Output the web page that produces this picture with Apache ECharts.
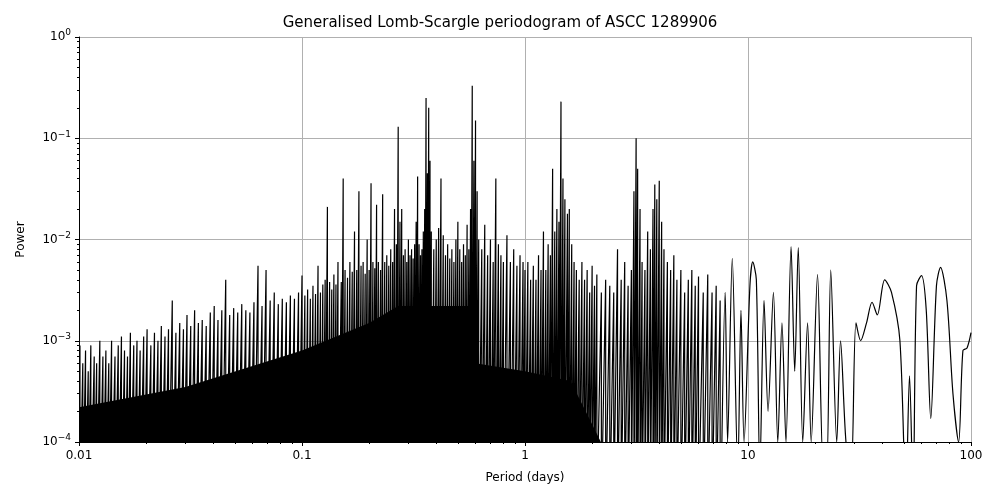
<!DOCTYPE html>
<html>
<head>
<meta charset="utf-8">
<script src="https://cdn.jsdelivr.net/npm/echarts@6/dist/echarts.min.js"></script>
<style>html,body{margin:0;background:#fff}#chart{width:1000px;height:500px}</style>
</head>
<body>
<div id="chart"></div>
<script>
// power values below are in units of 1e-3
const UNIT = 1e-3;
const FLOOR = 2e-5;

// resolved spikes: [period (days), power]
const spikesShort = [[0.0101,0.9],[0.0104,0.6],[0.0107,0.8],[0.0110,0.5],[0.0113,0.9],[0.0117,0.7],[0.0120,0.6],[0.0124,1.0],[0.0128,0.7],[0.0132,0.8],[0.0136,0.6],[0.0140,1.0],[0.0145,0.7],[0.0150,0.9],[0.0155,1.1],[0.0160,0.8],[0.0165,0.7],[0.0170,1.2],[0.0176,0.9],[0.0182,1.0],[0.0188,0.8],[0.0195,1.1],[0.0202,1.3],[0.0210,0.9],[0.0218,1.2],[0.0226,1.0],[0.0234,1.4],[0.0243,1.1],[0.0252,1.3],[0.0262,2.5],[0.0272,1.2],[0.0283,1.5],[0.0294,1.3],[0.0305,1.8],[0.0317,1.4],[0.0330,2.0],[0.0343,1.5],[0.0357,1.6],[0.0372,1.4],[0.0388,1.9],[0.0404,2.2],[0.0420,1.6],[0.0437,2.0],[0.0455,4.0],[0.0474,1.8],[0.0494,2.1],[0.0515,1.9],[0.0537,2.3],[0.0560,2.0],[0.0584,1.9],[0.0609,2.4],[0.0635,5.5],[0.0662,2.2],[0.0690,5.0],[0.0720,2.5],[0.0751,3.0],[0.0783,2.3],[0.0816,2.6],[0.0851,2.4],[0.0887,2.8],[0.0925,2.6],[0.0965,3.0]];

const spikesMid = [[0.100,4.4],[0.103,2.8],[0.106,3.2],[0.109,2.6],[0.112,3.5],[0.115,2.9],[0.118,5.5],[0.121,3.0],[0.124,3.6],[0.127,4.0],[0.130,21],[0.133,3.8],[0.136,3.2],[0.139,4.5],[0.142,3.6],[0.145,6],[0.150,3.8],[0.153,40],[0.156,5],[0.160,4.2],[0.164,6],[0.168,4.8],[0.172,12],[0.176,5],[0.180,30],[0.184,5.5],[0.188,6],[0.192,4.6],[0.196,10],[0.200,5],[0.204,36],[0.208,6],[0.212,5.2],[0.216,22],[0.220,6],[0.225,5],[0.230,28],[0.235,6],[0.240,7],[0.245,5.5],[0.250,8],[0.255,6],[0.260,20],[0.265,9],[0.270,130],[0.275,15],[0.280,20],[0.285,7],[0.290,8],[0.295,6],[0.300,10],[0.305,7],[0.310,8],[0.315,6.5],[0.320,9],[0.325,15],[0.330,42],[0.335,9],[0.340,7],[0.345,8],[0.350,12],[0.355,20],[0.360,250],[0.365,45],[0.370,200],[0.375,60],[0.380,12],[0.390,8],[0.400,10],[0.410,13],[0.420,40],[0.430,11],[0.440,7],[0.450,9],[0.460,6.5],[0.470,8],[0.480,6],[0.490,10],[0.500,15],[0.510,8],[0.520,6],[0.530,9],[0.540,7],[0.550,14],[0.560,8],[0.570,20],[0.580,330],[0.590,60],[0.600,150],[0.610,30],[0.620,10],[0.640,8],[0.660,14],[0.680,7],[0.700,10],[0.720,6],[0.740,40],[0.760,9],[0.780,7],[0.800,6],[0.830,11],[0.860,6],[0.890,8],[0.920,5.5],[0.950,7],[0.980,6]];

const spikesLong = [[1.00,5],[1.03,6],[1.06,4],[1.09,5.5],[1.12,4],[1.15,7],[1.18,5],[1.21,12],[1.24,5],[1.27,9],[1.30,7],[1.33,50],[1.36,12],[1.39,20],[1.42,15],[1.45,230],[1.48,40],[1.51,25],[1.55,18],[1.58,20],[1.62,9],[1.66,6],[1.70,5],[1.75,4],[1.80,6],[1.85,4],[1.90,5],[1.95,3],[2.00,5.5],[2.05,3.5],[2.10,4.5],[2.20,3],[2.30,4],[2.40,3.5],[2.50,3],[2.60,8],[2.70,4],[2.80,6],[2.90,3.5],[3.00,5],[3.08,30],[3.15,100],[3.20,50],[3.28,20],[3.35,6],[3.45,5],[3.55,12],[3.65,8],[3.75,20],[3.82,35],[3.90,25],[4.00,38],[4.10,15],[4.20,8],[4.35,6],[4.50,5],[4.65,7],[4.80,4],[5.00,5],[5.20,3],[5.40,4],[5.60,5],[5.80,3.5],[6.00,4.3],[6.30,3],[6.60,4.5],[6.90,3],[7.20,3.5],[7.50,2.5]];

// smooth long-period tail
const tail = [[7.6,0.05],[7.9,3],[8.1,0.1],[8.5,6.5],[9.0,0.05],[9.3,2],[9.6,0.1],[10.2,3.5],[10.5,6],[10.9,4],[11.3,0.05],[11.8,2.5],[12.3,0.2],[13,3],[13.6,0.1],[14.2,1.5],[14.8,0.1],[15.6,8.5],[16.2,0.5],[16.8,8.3],[17.6,0.1],[18.5,1.5],[19.2,0.1],[20.5,4.5],[21.8,0.05],[22.5,0.05],[23.5,5],[25,0.1],[26,1],[27.5,0.1],[29,0.05],[30.5,1.5],[32,1.0],[34,1.5],[36,2.4],[38,1.8],[41,4],[44,3],[48,1],[51,0.03],[53,0.45],[55,0.03],[57,3.5],[60,4.4],[63,2],[66,0.17],[70,3.5],[73,5.3],[78,2.5],[83,0.3],[88,0.1],[92,0.8],[96,0.85],[100,1.2]];

// solid black band where the periodogram is unresolved
const denseBand = [[0.01,0.22],[0.03,0.35],[0.1,0.8],[0.2,1.5],[0.27,2.2],[0.58,2.2],[0.6,0.6],[1,0.5],[1.6,0.4],[2,0.15],[2.3,0.08]];

const xTicks = [0.01, 0.1, 1, 10, 100];
const yExp = { 0.0001: '−4', 0.001: '−3', 0.01: '−2', 0.1: '−1', 1: '0' };

const stems = [];
[...spikesShort, ...spikesMid, ...spikesLong].forEach(([p, v]) => {
  stems.push([p, v * UNIT], [p, FLOOR]);
});

const chart = echarts.init(document.getElementById('chart'));
const axisCommon = {
  axisLine: { lineStyle: { color: '#000' } },
  axisTick: { inside: false, length: 4, lineStyle: { color: '#000' } },
  minorTick: { show: true, splitNumber: 9, length: 2, lineStyle: { color: '#000' } },
  splitLine: { show: true, lineStyle: { color: '#b0b0b0' } },
  axisLabel: { color: '#000', fontSize: 12, fontFamily: 'DejaVu Sans' },
  nameTextStyle: { color: '#000', fontSize: 12, fontFamily: 'DejaVu Sans' }
};
chart.setOption({
  animation: false,
  title: {
    text: 'Generalised Lomb-Scargle periodogram of ASCC 1289906',
    left: 'center', top: 11,
    textStyle: { fontFamily: 'DejaVu Sans', fontSize: 15, fontWeight: 'normal', color: '#000' }
  },
  grid: { left: 79, right: 29, top: 37, bottom: 58 },
  xAxis: Object.assign({}, axisCommon, {
    type: 'log', min: 0.01, max: 100, logBase: 10,
    name: 'Period (days)', nameLocation: 'middle', nameGap: 30,
    axisLabel: Object.assign({}, axisCommon.axisLabel, {
      formatter: v => (xTicks.some(t => Math.abs(t - v) / t < 1e-6) ? String(+v.toPrecision(3)) : '')
    })
  }),
  yAxis: Object.assign({}, axisCommon, {
    type: 'log', min: 1e-4, max: 1, logBase: 10,
    name: 'Power', nameLocation: 'middle', nameGap: 52,
    axisLabel: Object.assign({}, axisCommon.axisLabel, {
      formatter: v => {
        const k = Object.keys(yExp).find(t => Math.abs(+t - v) / +t < 1e-6);
        return k ? '10{s|' + yExp[k] + '}' : '';
      },
      rich: { s: { fontSize: 9, verticalAlign: 'top', padding: [0, 0, 8, 0], fontFamily: 'DejaVu Sans' } }
    })
  }),
  series: [
    {
      type: 'line', data: denseBand.map(([p, v]) => [p, v * UNIT]),
      showSymbol: false, lineStyle: { width: 0 }, areaStyle: { color: '#000', opacity: 1, origin: 'start' },
      clip: true, z: 1
    },
    {
      type: 'line', data: stems, showSymbol: false, clip: true, sampling: null,
      lineStyle: { color: '#000', width: 1.2 }, z: 2
    },
    {
      type: 'line', data: tail.map(([p, v]) => [p, v * UNIT]), smooth: 0.3, showSymbol: false, clip: true,
      lineStyle: { color: '#000', width: 1.2 }, z: 2
    }
  ]
});
</script>
</body>
</html>
